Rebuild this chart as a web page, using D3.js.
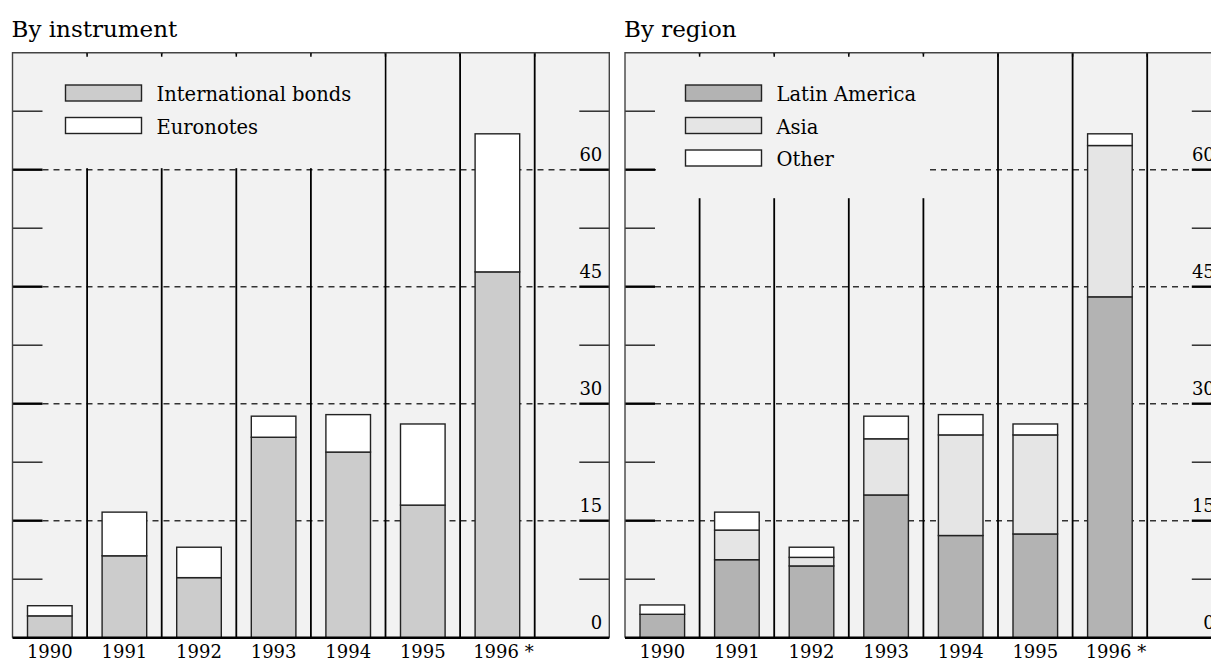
<!DOCTYPE html>
<html>
<head>
<meta charset="utf-8">
<script src="https://cdn.jsdelivr.net/npm/d3@7"></script>
<style>
  body { margin: 0; background: #fff; }
  svg { display: block; font-family: "DejaVu Serif", serif; }
</style>
</head>
<body>
<svg id="chart" width="1211" height="661"></svg>
<script>
// years on the x axis
const years = ["1990", "1991", "1992", "1993", "1994", "1995", "1996 *"];

// by instrument (US$ bn)
const intlBonds = [2.8, 10.5, 7.7, 25.7, 23.8, 17.0, 46.9];
const euronotes = [1.3, 5.6, 3.9, 2.7, 4.8, 10.4, 17.7];

// by region
const latinAmerica = [3.0, 10.0, 9.2, 18.3, 13.1, 13.3, 43.7];
const asia = [0.0, 3.8, 1.1, 7.2, 12.9, 12.7, 19.4];
const other = [1.2, 2.3, 1.3, 2.9, 2.6, 1.4, 1.5];

const yTicks = [0, 15, 30, 45, 60];
const yMinor = [7.5, 22.5, 37.5, 52.5, 67.5];

const svg = d3.select("#chart");
const bg = "#f2f2f2";

function drawPanel(opts) {
  const x0 = opts.x0, colW = 74.6;
  const cols = years.concat(["axis"]);
  const x = d3.scaleBand().domain(cols).range([x0, x0 + colW * cols.length]);
  const y = d3.scaleLinear().domain([0, 75]).range([637.7, 52.7]);
  const x1 = x.range()[1];
  const top = y(75), bottom = y(0);

  const g = svg.append("g");

  // title
  g.append("text")
    .attr("x", x0 - 1).attr("y", 37)
    .attr("font-size", 23).attr("fill", "#000")
    .text(opts.title);

  g.append("rect")
    .attr("x", x0).attr("y", top)
    .attr("width", x1 - x0).attr("height", bottom - top)
    .attr("fill", bg);

  // dashed grid lines
  g.selectAll(".grid").data(yTicks.filter(d => d > 0)).join("line")
    .attr("x1", x0 + 30).attr("x2", x1 - 30)
    .attr("y1", d => y(d)).attr("y2", d => y(d))
    .attr("stroke", "#333").attr("stroke-width", 1.4)
    .attr("stroke-dasharray", "6,5");

  // column separators
  const seps = cols.slice(1);
  g.selectAll(".sep").data(seps).join("line")
    .attr("x1", d => x(d)).attr("x2", d => x(d))
    .attr("y1", top).attr("y2", bottom)
    .attr("stroke", "#000").attr("stroke-width", 1.8);

  // legend area covers part of the grid
  g.append("rect")
    .attr("x", x0 + 31).attr("y", top + 1.5)
    .attr("width", opts.coverW).attr("height", opts.coverH)
    .attr("fill", bg);
  g.selectAll(".topTick").data(seps).join("line")
    .attr("x1", d => x(d)).attr("x2", d => x(d))
    .attr("y1", top).attr("y2", top + 4)
    .attr("stroke", "#000").attr("stroke-width", 1.5);

  // stacked bars
  const table = years.map((yr, i) => {
    const row = { year: yr };
    opts.series.forEach(s => { row[s.name] = s.values[i]; });
    return row;
  });
  const stack = d3.stack().keys(opts.series.map(s => s.name))(table);
  const barW = 44.6;
  stack.forEach((layer, k) => {
    g.selectAll(null).data(layer.filter(d => d[1] - d[0] > 0)).join("rect")
      .attr("x", d => x(d.data.year) + (x.bandwidth() - barW) / 2)
      .attr("y", d => y(d[1]))
      .attr("width", barW)
      .attr("height", d => y(d[0]) - y(d[1]))
      .attr("fill", opts.series[k].color)
      .attr("stroke", "#222").attr("stroke-width", 1.4);
  });

  // left and right tick marks
  [[x0, x0 + 30], [x1 - 30, x1]].forEach(([a, b]) => {
    g.selectAll(null).data(yTicks.filter(d => d > 0)).join("line")
      .attr("x1", a).attr("x2", b)
      .attr("y1", d => y(d)).attr("y2", d => y(d))
      .attr("stroke", "#000").attr("stroke-width", 2.4);
    g.selectAll(null).data(yMinor).join("line")
      .attr("x1", a).attr("x2", b)
      .attr("y1", d => y(d)).attr("y2", d => y(d))
      .attr("stroke", "#222").attr("stroke-width", 1.4);
  });

  // frame
  g.append("path")
    .attr("d", `M${x0},${bottom}V${top}H${x1}V${bottom}`)
    .attr("fill", "none").attr("stroke", "#444").attr("stroke-width", 1.4);
  g.append("line")
    .attr("x1", x0).attr("x2", x1).attr("y1", bottom).attr("y2", bottom)
    .attr("stroke", "#000").attr("stroke-width", 2.6);

  // value labels
  g.selectAll(null).data(yTicks).join("text")
    .attr("x", x1 - 7).attr("y", d => y(d) - 9)
    .attr("text-anchor", "end").attr("font-size", 18).attr("fill", "#000")
    .text(d => d);

  // year labels
  g.selectAll(null).data(years).join("text")
    .attr("x", d => x(d) + x.bandwidth() / 2 + (d.length > 4 ? 6 : 0))
    .attr("y", 658)
    .attr("text-anchor", "middle").attr("font-size", 18).attr("fill", "#000")
    .text(d => d);

  // legend
  opts.series.forEach((s, i) => {
    const ly = 85 + i * 32.5;
    g.append("rect")
      .attr("x", x0 + opts.legendX).attr("y", ly)
      .attr("width", 76).attr("height", 16)
      .attr("fill", s.color).attr("stroke", "#222").attr("stroke-width", 1.4);
    g.append("text")
      .attr("x", x0 + opts.legendX + 91).attr("y", ly + 16)
      .attr("font-size", 19.5).attr("fill", "#000")
      .text(s.name);
  });
}

drawPanel({
  title: "By instrument",
  x0: 12.5,
  coverW: 341, coverH: 114,
  legendX: 53,
  series: [
    { name: "International bonds", values: intlBonds, color: "#cccccc" },
    { name: "Euronotes", values: euronotes, color: "#ffffff" }
  ]
});

drawPanel({
  title: "By region",
  x0: 625,
  coverW: 270, coverH: 144,
  legendX: 60.5,
  series: [
    { name: "Latin America", values: latinAmerica, color: "#b3b3b3" },
    { name: "Asia", values: asia, color: "#e5e5e5" },
    { name: "Other", values: other, color: "#ffffff" }
  ]
});
</script>
</body>
</html>
